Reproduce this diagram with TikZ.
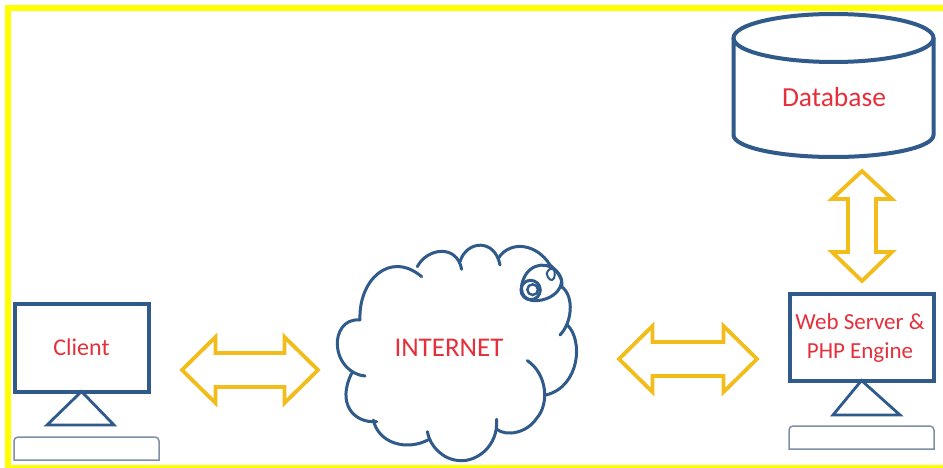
\documentclass[tikz,border=0pt]{standalone}
\usepackage{fontspec}
\setmainfont{Carlito}
\definecolor{bluedk}{HTML}{2F5A8A}
\definecolor{bluelt}{HTML}{7F8FA6}
\definecolor{gold}{HTML}{F2BC1B}
\definecolor{redtxt}{HTML}{E5303C}
\definecolor{yel}{HTML}{FFFF00}
\tikzset{
  screenbox/.style={draw=bluedk,line width=4pt,outer sep=0pt,inner sep=0pt,align=center,text=redtxt,fill=white},
  standtri/.style={draw=bluedk,line width=2.8pt,line join=miter},
  keyboard/.style={draw=bluelt,line width=1.5pt},
  goldarrow/.style={draw=gold,line width=3.8pt,line join=miter,fill=white},
  cloudline/.style={draw=bluedk,line width=3pt,line cap=round},
  dbline/.style={draw=bluedk,line width=4pt},
  labeltxt/.style={text=redtxt,inner sep=0pt},
  biarrow/.pic={
    \path[goldarrow] (-#1,0) -- (-#1+33.5,-33) -- (-#1+33.5,-17) -- (#1-33.5,-17) -- (#1-33.5,-33) -- (#1,0) -- (#1-33.5,33) -- (#1-33.5,17) -- (-#1+33.5,17) -- (-#1+33.5,33) -- cycle;
  },
}
\begin{document}
\begin{tikzpicture}[x=1pt,y=-1pt]
\useasboundingbox (0,0) rectangle (943,468);
\fill[white] (0,0) rectangle (943,468);
\fill[yel] (5,5) rectangle (943,11);
\fill[yel] (5,5) rectangle (11,468);
\fill[yel] (5,465) rectangle (943,468);

% Client
\node[screenbox,minimum width=134pt,minimum height=88pt,font=\fontsize{24}{28}\selectfont] (client) at (81.5,347.5) {Client};
\coordinate (cb1) at (47,425); \coordinate (cb2) at (114,425);
\draw[standtri] (client.south) -- (cb1) -- (cb2) -- cycle;
\draw[keyboard] (14,460) -- (14,441) to[out=90,in=180] (18,437) -- (155,437) to[out=0,in=90] (159,441) -- (159,460) -- cycle;

% Server
\node[screenbox,minimum width=144pt,minimum height=87pt,text depth=0pt] (server) at (861.5,337) {};
\node[labeltxt,align=center,font=\fontsize{23}{28.5}\selectfont] (servertxt) at (860,338) {Web Server \&\\PHP Engine};
\coordinate (sb1) at (833,415); \coordinate (sb2) at (900,415);
\draw[standtri] (server.south) -- (sb1) -- (sb2) -- cycle;
\draw[keyboard] (789,449) -- (789,430) to[out=90,in=180] (793,426) -- (930,426) to[out=0,in=90] (934,430) -- (934,449) -- cycle;

% Database
\draw[dbline] (733.5,38) -- (733.5,135) arc[start angle=180,end angle=0,x radius=100,y radius=22] -- (933.5,38);
\draw[dbline] (833.5,38) ellipse[x radius=100,y radius=24];
\node[labeltxt,font=\fontsize{27.5}{32}\selectfont] (db) at (834,97) {Database};

% Block arrows
\pic at (250,370) {biarrow=68};
\pic at (688,359) {biarrow=69};
\path[goldarrow] (862,171) -- (892,199) -- (876,199) -- (876,252) -- (892,252) -- (862,281) -- (832,252) -- (848,252) -- (848,199) -- (832,199) -- cycle;

% Cloud (reference zoom coordinates)
\begin{scope}[shift={(320,230)},x=0.3333pt,y=-0.3333pt]
\draw[cloudline] (120,270) .. controls (70,265) and (50,310) .. (52,345) .. controls (55,400) and (95,435) .. (135,438);
\draw[cloudline] (120,270) .. controls (115,150) and (210,60) .. (305,140);
\draw[cloudline] (292,110) .. controls (320,55) and (410,40) .. (425,118);
\draw[cloudline] (420,95) .. controls (440,30) and (525,25) .. (540,105);
\draw[cloudline] (535,85) .. controls (570,30) and (650,40) .. (690,105) .. controls (715,125) and (730,150) .. (725,170);
\draw[cloudline] (725,170) .. controls (765,200) and (755,280) .. (720,315);
\draw[cloudline] (742,285) .. controls (790,330) and (780,470) .. (678,495);
\draw[cloudline] (622,392) .. controls (680,430) and (690,520) .. (650,565) .. controls (620,610) and (560,620) .. (530,598);
\draw[cloudline] (530,568) .. controls (535,650) and (470,695) .. (420,692) .. controls (370,690) and (330,650) .. (322,605);
\draw[cloudline] (328,628) .. controls (260,665) and (175,640) .. (160,570);
\draw[cloudline] (170,575) .. controls (100,580) and (50,520) .. (95,430);
% swirl
\draw[cloudline] (725,150) .. controls (710,100) and (650,90) .. (620,130) .. controls (590,175) and (605,215) .. (650,212) .. controls (690,210) and (725,185) .. (725,150);
\draw[cloudline] (632,180) circle[radius=29];
\draw[cloudline,line width=2.4pt] (638,179) circle[radius=16];
\draw[cloudline,line width=2pt] (680,130) .. controls (690,105) and (712,115) .. (702,145) .. controls (695,155) and (685,150) .. (680,130);
\end{scope}
\node[labeltxt,font=\fontsize{27}{32}\selectfont] (net) at (449,348) {INTERNET};
\end{tikzpicture}
\end{document}
